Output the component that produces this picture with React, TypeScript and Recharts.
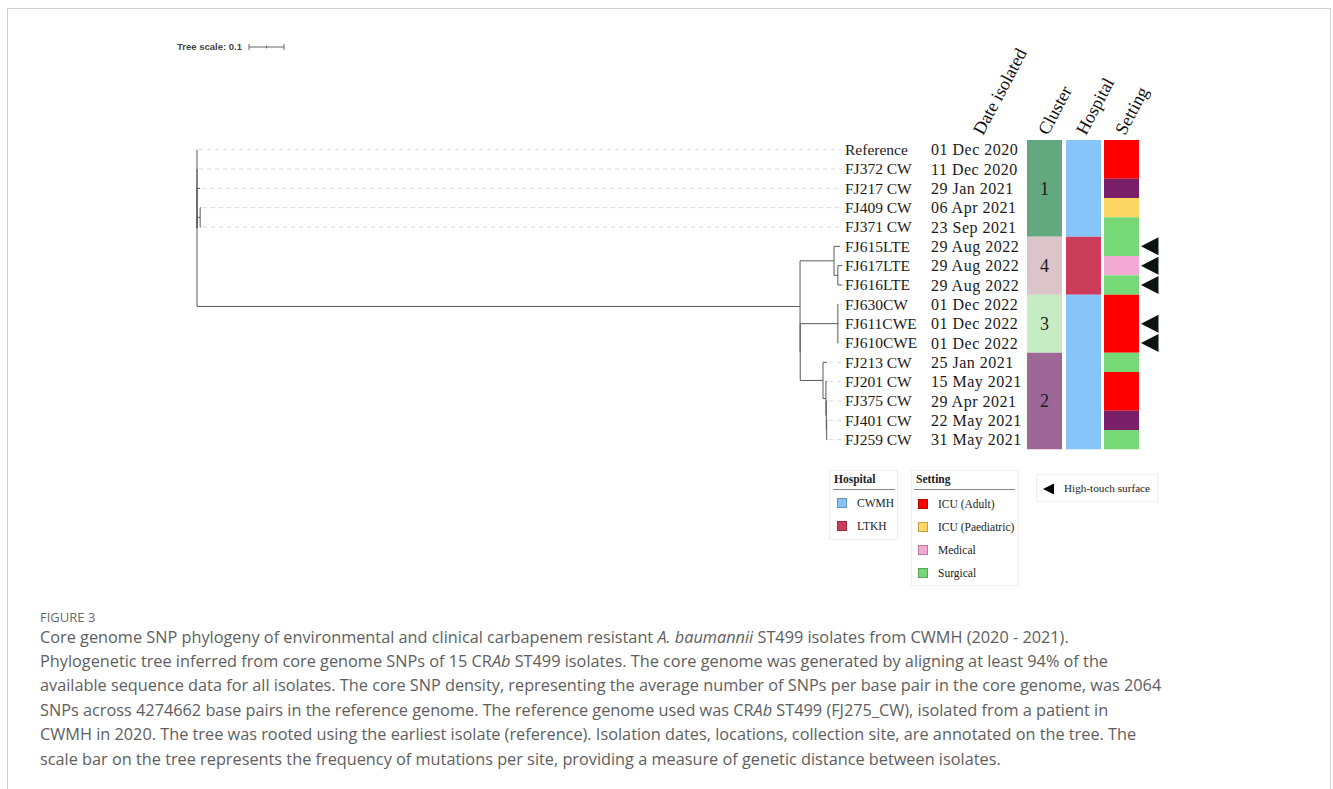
import React from 'react';
import { ComposedChart, XAxis, YAxis, Scatter, ReferenceArea } from 'recharts';

// tips, top to bottom
const tipNames = [
  'Reference', 'FJ372 CW', 'FJ217 CW', 'FJ409 CW', 'FJ371 CW',
  'FJ615LTE', 'FJ617LTE', 'FJ616LTE', 'FJ630CW', 'FJ611CWE', 'FJ610CWE',
  'FJ213 CW', 'FJ201 CW', 'FJ375 CW', 'FJ401 CW', 'FJ259 CW',
];
const tipDates = [
  '01 Dec 2020', '11 Dec 2020', '29 Jan 2021', '06 Apr 2021', '23 Sep 2021',
  '29 Aug 2022', '29 Aug 2022', '29 Aug 2022', '01 Dec 2022', '01 Dec 2022', '01 Dec 2022',
  '25 Jan 2021', '15 May 2021', '29 Apr 2021', '22 May 2021', '31 May 2021',
];
const tipParent = [
  'root', 'root', 'root', 'cw1', 'cw1',
  'c4', 'c4b', 'c4b', 'c3', 'c3', 'c3',
  'c2', 'c2b', 'c2c', 'c2d', 'c2d',
];
// distance from root (substitutions per site)
const tipDepth = [
  0, 0, 0.009, 0.011, 0.011,
  1.837, 1.843, 1.843, 1.833, 1.833, 1.833,
  1.8, 1.8, 1.801, 1.801, 1.801,
];
const nodeNames = ['root', 'cw1', 'clade', 'c32', 'c4', 'c4b', 'c3', 'c2', 'c2b', 'c2c', 'c2d'];
const nodeParent = ['', 'root', 'root', 'clade', 'clade', 'c4', 'c32', 'c32', 'c2', 'c2b', 'c2c'];
const nodeDepth = [0, 0.009, 1.723, 1.7235, 1.82, 1.831, 1.831, 1.7886, 1.797, 1.798, 1.799];

const clusters = [1, 1, 1, 1, 1, 4, 4, 4, 3, 3, 3, 2, 2, 2, 2, 2];
const hospitals = [
  'CWMH', 'CWMH', 'CWMH', 'CWMH', 'CWMH', 'LTKH', 'LTKH', 'LTKH',
  'CWMH', 'CWMH', 'CWMH', 'CWMH', 'CWMH', 'CWMH', 'CWMH', 'CWMH',
];
const settings = [
  'ICU (Adult)', 'ICU (Adult)', 'Other', 'ICU (Paediatric)', 'Surgical',
  'Surgical', 'Medical', 'Surgical', 'ICU (Adult)', 'ICU (Adult)', 'ICU (Adult)',
  'Surgical', 'ICU (Adult)', 'ICU (Adult)', 'Other', 'Surgical',
];
const highTouch = [0, 0, 0, 0, 0, 1, 1, 1, 0, 1, 1, 0, 0, 0, 0, 0];

const columnHeaders = ['Date isolated', 'Cluster', 'Hospital', 'Setting'];
const hospitalLegend = ['CWMH', 'LTKH'];
const settingLegend = ['ICU (Adult)', 'ICU (Paediatric)', 'Medical', 'Surgical'];
const treeScale = 0.1;

const captionTitle = 'FIGURE 3';
const captionLines: [string, boolean][][] = [
  [['Core genome SNP phylogeny of environmental and clinical carbapenem resistant ', false], ['A. baumannii', true], [' ST499 isolates from CWMH (2020 - 2021).', false]],
  [['Phylogenetic tree inferred from core genome SNPs of 15 CR', false], ['Ab', true], [' ST499 isolates. The core genome was generated by aligning at least 94% of the', false]],
  [['available sequence data for all isolates. The core SNP density, representing the average number of SNPs per base pair in the core genome, was 2064', false]],
  [['SNPs across 4274662 base pairs in the reference genome. The reference genome used was CR', false], ['Ab', true], [' ST499 (FJ275_CW), isolated from a patient in', false]],
  [['CWMH in 2020. The tree was rooted using the earliest isolate (reference). Isolation dates, locations, collection site, are annotated on the tree. The', false]],
  [['scale bar on the tree represents the frequency of mutations per site, providing a measure of genetic distance between isolates.', false]],
];

// colours
const clusterColor: Record<number, string> = { 1: '#63a97f', 2: '#9d6897', 3: '#c7ecc3', 4: '#dbc4ca' };
const hospitalColor: Record<string, string> = { CWMH: '#87c4f9', LTKH: '#cc3d5c' };
const settingColor: Record<string, string> = {
  'ICU (Adult)': '#ff0000', 'ICU (Paediatric)': '#fdd765', Medical: '#f2a9d3', Surgical: '#77d877', Other: '#7c1f6b',
};

// layout
const W = 1333;
const H = 789;
const TREE_X0 = 197;
const TREE_PX = 350;
const ROW_Y0 = 149.7;
const ROW_H = 19.33;
const NAME_X = 845;
const DATE_X = 931;
const COL = { cluster: [1027, 1062], hospital: [1066, 1101], setting: [1104, 1139] };
const ARROW_X = 1150;
const HEADER_X = [983, 1048, 1086, 1125];
const HEADER_ROW = (136 - ROW_Y0) / ROW_H;
const SCALE_START = (249 - TREE_X0) / TREE_PX;
const SCALE_ROW = (47 - ROW_Y0) / ROW_H;
const serif = '"Liberation Serif", "DejaVu Serif", serif';
const sans = '"Open Sans", "Noto Sans", sans-serif';

const treeDomain = [-TREE_X0 / TREE_PX, (W - TREE_X0) / TREE_PX];
const rowDomain = [-ROW_Y0 / ROW_H, (H - ROW_Y0) / ROW_H];
const toTree = (px: number) => (px - TREE_X0) / TREE_PX;

// tree layout
const depthOf: Record<string, number> = {};
const parentOf: Record<string, string> = {};
const yOf: Record<string, number> = {};
tipNames.forEach((n, i) => { depthOf[n] = tipDepth[i]; parentOf[n] = tipParent[i]; yOf[n] = i; });
nodeNames.forEach((n, i) => { depthOf[n] = nodeDepth[i]; parentOf[n] = nodeParent[i]; });
const allNames = [...tipNames, ...nodeNames];
const placeY = (n: string): number => {
  if (n in yOf) return yOf[n];
  const ys = allNames.filter((c) => parentOf[c] === n).map(placeY);
  yOf[n] = (Math.min(...ys) + Math.max(...ys)) / 2;
  return yOf[n];
};
placeY('root');

const branches = allNames.filter((n) => n !== 'root').map((n) => {
  const p = parentOf[n];
  return [
    { x: depthOf[p], y: yOf[p] },
    { x: depthOf[p], y: yOf[n] },
    { x: depthOf[n], y: yOf[n] },
  ];
});
const guides = tipNames.map((n, i) => [
  { x: tipDepth[i] + 0.006, y: i },
  { x: toTree(NAME_X - 3), y: i },
]);

const runs = <T,>(vals: T[]) => {
  const out: { value: T; start: number; end: number }[] = [];
  let s = 0;
  for (let i = 1; i <= vals.length; i++) {
    if (i === vals.length || vals[i] !== vals[s]) {
      out.push({ value: vals[s], start: s, end: i - 1 });
      s = i;
    }
  }
  return out;
};

const nameData = tipNames.map((n, i) => ({ x: NAME_X, y: i, label: n }));
const dateData = tipDates.map((d, i) => ({ x: DATE_X, y: i, label: d }));
const clusterLabels = runs(clusters).map((r) => ({
  x: (COL.cluster[0] + COL.cluster[1]) / 2, y: (r.start + r.end) / 2, label: String(r.value),
}));
const arrowData = highTouch.map((h, i) => ({ x: ARROW_X, y: i, h })).filter((d) => d.h);
const headerData = columnHeaders.map((h, i) => ({ x: HEADER_X[i], y: HEADER_ROW, label: h }));
const scaleBar = [{ x: SCALE_START, y: SCALE_ROW }, { x: SCALE_START + treeScale, y: SCALE_ROW }];
const scaleTicks = [
  [{ x: SCALE_START, y: SCALE_ROW - 0.15 }, { x: SCALE_START, y: SCALE_ROW + 0.15 }],
  [{ x: SCALE_START + treeScale / 2, y: SCALE_ROW - 0.07 }, { x: SCALE_START + treeScale / 2, y: SCALE_ROW + 0.07 }],
  [{ x: SCALE_START + treeScale, y: SCALE_ROW - 0.15 }, { x: SCALE_START + treeScale, y: SCALE_ROW + 0.15 }],
];

const none = () => <g />;
const textShape = (size: number, anchor: string = 'start', spacing = 0) => (p: any) => (
  <text x={p.cx} y={p.cy} dy="0.35em" fontFamily={serif} fontSize={size} fill="#1a1a1a" textAnchor={anchor}
    letterSpacing={spacing}>
    {p.payload.label}
  </text>
);
const headerShape = (p: any) => (
  <text x={p.cx} y={p.cy} fontFamily={serif} fontSize={18} fill="#111" transform={`rotate(-62 ${p.cx} ${p.cy})`}>
    {p.payload.label}
  </text>
);
const arrowShape = (p: any) => (
  <polygon
    points={`${p.cx - 9},${p.cy} ${p.cx + 8.5},${p.cy - 9} ${p.cx + 8.5},${p.cy + 9}`}
    fill="#0d1410"
  />
);
const scaleLabel = (p: any) =>
  p.index === 0 ? (
    <text x={p.cx - 7} y={p.cy} dy="0.35em" textAnchor="end" fontFamily='"Liberation Sans", Arial, sans-serif'
      fontWeight="bold" fontSize={9.5} fill="#444">
      Tree scale: {treeScale}
    </text>
  ) : <g />;

const legendBox: React.CSSProperties = {
  position: 'absolute', border: '1px solid #eeeeee', background: '#fff', boxSizing: 'border-box',
  fontFamily: serif, color: '#222',
};
const swatch = (c: string, top: number, left: number) => (
  <div style={{
    position: 'absolute', left, top, width: 10, height: 10, background: c,
    border: '1px solid rgba(0,0,0,0.25)', boxSizing: 'border-box',
  }} />
);

const Legends = () => (
  <>
    <div style={{ ...legendBox, left: 829, top: 470, width: 69, height: 70 }}>
      <div style={{ position: 'absolute', left: 4, top: 2, fontWeight: 'bold', fontSize: 11.5 }}>Hospital</div>
      <div style={{ position: 'absolute', left: 3, right: 2, top: 18, borderTop: '1px solid #888' }} />
      {hospitalLegend.map((h, i) => (
        <React.Fragment key={h}>
          {swatch(hospitalColor[h], 27 + i * 23, 7)}
          <div style={{ position: 'absolute', left: 27, top: 25 + i * 23, fontSize: 11.5, lineHeight: '14px' }}>{h}</div>
        </React.Fragment>
      ))}
    </div>
    <div style={{ ...legendBox, left: 911, top: 470, width: 108, height: 116 }}>
      <div style={{ position: 'absolute', left: 4, top: 2, fontWeight: 'bold', fontSize: 11.5 }}>Setting</div>
      <div style={{ position: 'absolute', left: 2, right: 3, top: 18, borderTop: '1px solid #888' }} />
      {settingLegend.map((s, i) => (
        <React.Fragment key={s}>
          {swatch(settingColor[s], 28 + i * 23, 6)}
          <div style={{ position: 'absolute', left: 26, top: 26 + i * 23, fontSize: 11.5, lineHeight: '14px' }}>{s}</div>
        </React.Fragment>
      ))}
    </div>
    <div style={{ ...legendBox, left: 1036, top: 474, width: 122, height: 28 }}>
      <svg style={{ position: 'absolute', left: 6, top: 8 }} width={12} height={12}>
        <polygon points="0,6 11,0.5 11,11.5" fill="#000" />
      </svg>
      <div style={{ position: 'absolute', left: 27, top: 6, fontSize: 11.2, lineHeight: '14px' }}>High-touch surface</div>
    </div>
  </>
);

const Caption = () => (
  <svg width={W} height={H} style={{ position: 'absolute', left: 0, top: 0, pointerEvents: 'none' }}>
    <text x={40} y={621.5} fontFamily={sans} fontSize={13} fill="#6a6a6a">{captionTitle}</text>
    {captionLines.map((line, li) => (
      <text key={li} x={40} y={642.5 + li * 24.4} fontFamily={sans} fontSize={16.3} fill="#5e5e5e">
        {line.map(([t, it], k) => (
          <tspan key={k} fontStyle={it ? 'italic' : 'normal'}>{t}</tspan>
        ))}
      </text>
    ))}
  </svg>
);

export default function App() {
  return (
    <div style={{ position: 'fixed', left: 0, top: 0, width: W, height: H, overflow: 'hidden', background: '#fff' }}>
      <div style={{
        position: 'absolute', left: 7, top: 8, width: 1324, height: 900,
        border: '1px solid #d2d2d2', boxSizing: 'border-box',
      }} />
      <div style={{ position: 'absolute', left: 0, top: 0 }}>
        <ComposedChart width={W} height={H} margin={{ top: 0, right: 0, bottom: 0, left: 0 }}>
          <XAxis xAxisId="tree" type="number" dataKey="x" domain={treeDomain} allowDataOverflow hide />
          <XAxis xAxisId="page" type="number" dataKey="x" domain={[0, W]} allowDataOverflow hide />
          <YAxis yAxisId="row" type="number" dataKey="y" domain={rowDomain} allowDataOverflow reversed hide />

          {guides.map((g, i) => (
            <Scatter key={`g${i}`} xAxisId="tree" yAxisId="row" data={g} shape={none} isAnimationActive={false}
              line={{ stroke: '#d8d8d8', strokeWidth: 1, strokeDasharray: '4 4' }} />
          ))}
          {branches.map((b, i) => (
            <Scatter key={`b${i}`} xAxisId="tree" yAxisId="row" data={b} shape={none} isAnimationActive={false}
              line={{ stroke: '#5a5a5a', strokeWidth: 1 }} />
          ))}
          <Scatter xAxisId="tree" yAxisId="row" data={scaleBar} shape={scaleLabel} isAnimationActive={false}
            line={{ stroke: '#666', strokeWidth: 1 }} />
          {scaleTicks.map((t, i) => (
            <Scatter key={`t${i}`} xAxisId="tree" yAxisId="row" data={t} shape={none} isAnimationActive={false}
              line={{ stroke: '#666', strokeWidth: 1 }} />
          ))}

          {runs(clusters).map((r, i) => (
            <ReferenceArea key={`c${i}`} xAxisId="page" yAxisId="row" x1={COL.cluster[0]} x2={COL.cluster[1]}
              y1={r.start - 0.5} y2={r.end + 0.5} fill={clusterColor[r.value]} fillOpacity={1} ifOverflow="visible" />
          ))}
          {runs(hospitals).map((r, i) => (
            <ReferenceArea key={`h${i}`} xAxisId="page" yAxisId="row" x1={COL.hospital[0]} x2={COL.hospital[1]}
              y1={r.start - 0.5} y2={r.end + 0.5} fill={hospitalColor[r.value]} fillOpacity={1} ifOverflow="visible" />
          ))}
          {runs(settings).map((r, i) => (
            <ReferenceArea key={`s${i}`} xAxisId="page" yAxisId="row" x1={COL.setting[0]} x2={COL.setting[1]}
              y1={r.start - 0.5} y2={r.end + 0.5} fill={settingColor[r.value]} fillOpacity={1} ifOverflow="visible" />
          ))}

          <Scatter xAxisId="page" yAxisId="row" data={nameData} shape={textShape(15.5)} isAnimationActive={false} />
          <Scatter xAxisId="page" yAxisId="row" data={dateData} shape={textShape(16, 'start', 0.5)} isAnimationActive={false} />
          <Scatter xAxisId="page" yAxisId="row" data={clusterLabels} shape={textShape(18, 'middle')} isAnimationActive={false} />
          <Scatter xAxisId="page" yAxisId="row" data={arrowData} shape={arrowShape} isAnimationActive={false} />
          <Scatter xAxisId="page" yAxisId="row" data={headerData} shape={headerShape} isAnimationActive={false} />
        </ComposedChart>
      </div>
      <Legends />
      <Caption />
    </div>
  );
}
